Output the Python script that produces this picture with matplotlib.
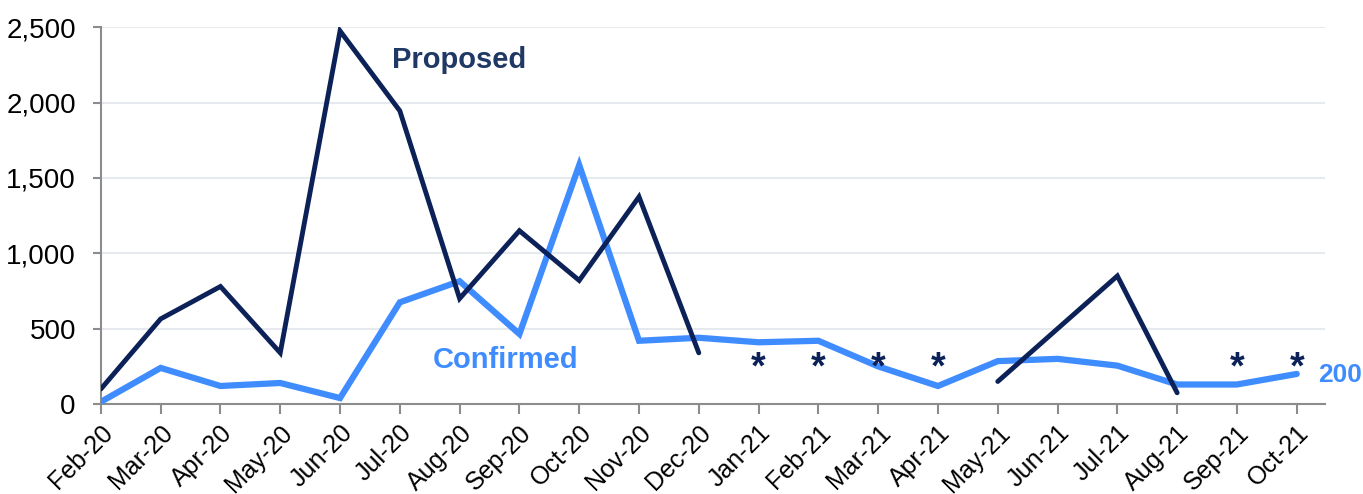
import numpy as np
import matplotlib
matplotlib.use('Agg')
from matplotlib import pyplot as plt

# DATA
MONTHS = ['Feb-20', 'Mar-20', 'Apr-20', 'May-20', 'Jun-20', 'Jul-20', 'Aug-20',
          'Sep-20', 'Oct-20', 'Nov-20', 'Dec-20', 'Jan-21', 'Feb-21', 'Mar-21',
          'Apr-21', 'May-21', 'Jun-21', 'Jul-21', 'Aug-21', 'Sep-21', 'Oct-21']
PROPOSED = [100, 565, 780, 340, 2475, 1945, 700, 1150, 820, 1375, 340,
            np.nan, np.nan, np.nan, np.nan, 150, 500, 850, 75, np.nan, np.nan]
CONFIRMED = [15, 240, 120, 140, 40, 675, 815, 465, 1585, 420, 440,
             410, 420, 250, 120, 285, 300, 255, 130, 130, 200]
ASTERISK_MONTHS = ['Jan-21', 'Feb-21', 'Mar-21', 'Apr-21', 'Sep-21', 'Oct-21']
LAST_LABEL = '200'

NAVY = '#0B2157'
BLUE = '#3F8CFF'
GRAY = '#8C8C8C'

plt.rcParams['font.family'] = ['Liberation Sans', 'DejaVu Sans']

fig = plt.figure(figsize=(13.63, 4.94), dpi=100)
ax = fig.add_axes([0.074, 0.182, 0.898, 0.763])

x = np.arange(len(MONTHS))
ax.plot(x, CONFIRMED, color=BLUE, lw=4.5, solid_joinstyle='miter',
        solid_capstyle='round', zorder=3)
ax.plot(x, PROPOSED, color=NAVY, lw=3.5, solid_joinstyle='miter',
        solid_capstyle='round', zorder=4)

# asterisks where proposed is not available
for m in ASTERISK_MONTHS:
    ax.text(MONTHS.index(m), 235, '*', color=NAVY, fontsize=27, fontweight='bold',
            ha='center', va='center', zorder=5)

ax.text(4.87, 2280, 'Proposed', color='#1F3864', fontsize=21, fontweight='bold',
        ha='left', va='center')
ax.text(5.55, 295, 'Confirmed', color=BLUE, fontsize=21, fontweight='bold',
        ha='left', va='center')
ax.text(20.36, 195, LAST_LABEL, color=BLUE, fontsize=19, fontweight='bold',
        ha='left', va='center', clip_on=False)

ax.set_xlim(0, 20.47)
ax.set_ylim(0, 2500)
ax.set_yticks(np.arange(0, 2501, 500))
ax.set_yticklabels([f'{v:,}' for v in range(0, 2501, 500)])
ax.set_xticks(x)
ax.set_xticklabels(MONTHS, rotation=45, ha='right', rotation_mode='anchor')

ax.grid(axis='y', color='#E6E9EE', lw=1.5, zorder=0)
ax.set_axisbelow(True)
for s in ['top', 'right']:
    ax.spines[s].set_visible(False)
for s in ['left', 'bottom']:
    ax.spines[s].set_color(GRAY)
    ax.spines[s].set_linewidth(1.5)
ax.tick_params(axis='x', direction='out', length=7, width=1.5, color=GRAY,
               labelsize=18, pad=5)
ax.tick_params(axis='y', direction='out', length=6, width=1.5, color=GRAY,
               labelsize=20, pad=12)

fig.savefig('out.png', dpi=100)
